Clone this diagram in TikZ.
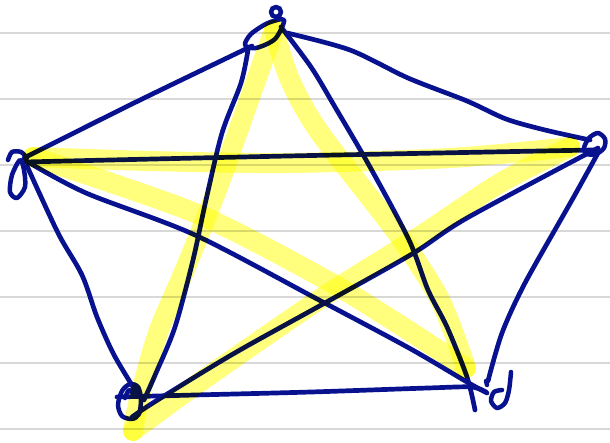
\documentclass[tikz,border=0pt]{standalone}
\definecolor{ink}{RGB}{8,18,142}
\definecolor{hl}{RGB}{255,255,125}
\definecolor{rulegray}{RGB}{216,216,216}
\tikzset{
  edge/.style={draw=ink, line width=4.7pt, line cap=round, line join=round},
  glow/.style={draw=hl, line width=20pt, line cap=round, line join=round, blend mode=multiply},
  paperline/.style={draw=rulegray, line width=2.2pt},
  vmark/.style={draw=ink, line width=4.5pt, line cap=round, line join=round},
}
\begin{document}
\begin{tikzpicture}[x=1pt,y=-1pt]
\useasboundingbox (0,0) rectangle (610,443);
\fill[white] (0,0) rectangle (610,443);
\foreach \yy in {33,99,165,231,297,363,429} \draw[paperline] (0,\yy) -- (610,\yy);

% edge end points
\coordinate (aB) at (24,158);   \coordinate (bA) at (252,46);
\coordinate (bC) at (287,33);   \coordinate (cB) at (590,140);
\coordinate (bE) at (248,50);   \coordinate (eB) at (144,400);
\coordinate (bD) at (281,27);   \coordinate (dB) at (475,410);
\coordinate (aD) at (28,162);   \coordinate (dA) at (487,393);
\coordinate (aE) at (27,166);   \coordinate (eA) at (138,395);
\coordinate (cE) at (598,148);  \coordinate (eC) at (132,417);
\coordinate (cD) at (598,153);  \coordinate (dC) at (488,381);
\coordinate (eD) at (117,397);  \coordinate (dE) at (486,392);
\coordinate (aC) at (25,162);   \coordinate (cA) at (593,150);
% highlight corners
\coordinate (yb) at (274,30);
\coordinate (ye) at (133,431);
\coordinate (yc) at (570,147);
\coordinate (ya) at (33,157);
\coordinate (yd) at (466,368);

% blue edges
\draw[edge] plot[smooth] coordinates {(aB) (136,102) (bA)};
\draw[edge] plot[smooth] coordinates {(bC) (350,50) (408,78) (467,101) (506,119) (545,130) (cB)};
\draw[edge] plot[smooth] coordinates {(bE) (241,83) (222,133) (206,200) (193,260) (175,327) (156,373) (eB)};
\draw[edge] plot[smooth] coordinates {(bD) (311,67) (335,107) (370,167) (409,240) (428,290) (447,327) (467,377) (dB)};
\draw[edge] plot[smooth] coordinates {(aD) (86,193) (195,235) (319,300) (409,348) (467,382) (dA)};
\draw[edge] plot[smooth] coordinates {(aE) (58,233) (82,275) (97,317) (113,353) (130,382) (eA)};
\draw[edge] plot[smooth] coordinates {(cE) (467,218) (412,254) (323,304) (233,354) (156,401) (eC)};
\draw[edge] plot[smooth] coordinates {(cD) (572,200) (525,283) (502,333) (dC)};
\draw[edge] plot[smooth] coordinates {(eD) (195,395) (311,392) (428,388) (471,387) (dE)};
\draw[edge] plot[smooth] coordinates {(aC) (288,156) (cA)};

% vertex marks
\draw[vmark] (276,12) circle [radius=5];
\draw[vmark] plot[smooth cycle] coordinates {(284,20) (268,23) (251,34) (245,45) (256,48) (275,39)};
\draw[vmark] plot[smooth] coordinates {(8,160) (12,152) (21,152) (27,158)};
\draw[vmark] plot[smooth cycle] coordinates {(20,160) (12,175) (10,192) (17,198) (25,187) (24,170)};
\draw[vmark] plot[smooth cycle] coordinates {(584,148) (589,138) (598,133) (605,139) (604,148) (596,154) (587,154)};
\draw[vmark] plot[smooth cycle] coordinates {(118,405) (122,391) (130,384) (138,387) (141,399) (139,414) (132,419) (122,416)};
\draw[vmark] plot[smooth] coordinates {(125,398) (129,390) (134,395)};
\draw[vmark] plot[smooth] coordinates {(511,372) (509,390) (505,403) (497,408) (491,401) (494,392) (502,390)};
\draw[vmark] (486,381) -- (487,385);

% yellow highlight (pentagram)
\draw[glow] plot[smooth] coordinates {(yb) (249,100) (218,187) (186,267) (158,333) (139,400) (ye)};
\draw[glow] plot[smooth] coordinates {(ye) (200,382) (323,297) (420,236) (500,183) (yc)};
\draw[glow] plot[smooth] coordinates {(yc) (450,158) (288,163) (150,161) (ya)};
\draw[glow] plot[smooth] coordinates {(ya) (195,213) (319,276) (389,318) (yd)};
\draw[glow] plot[smooth] coordinates {(yd) (440,300) (397,233) (320,133) (290,80) (yb)};
\end{tikzpicture}
\end{document}
